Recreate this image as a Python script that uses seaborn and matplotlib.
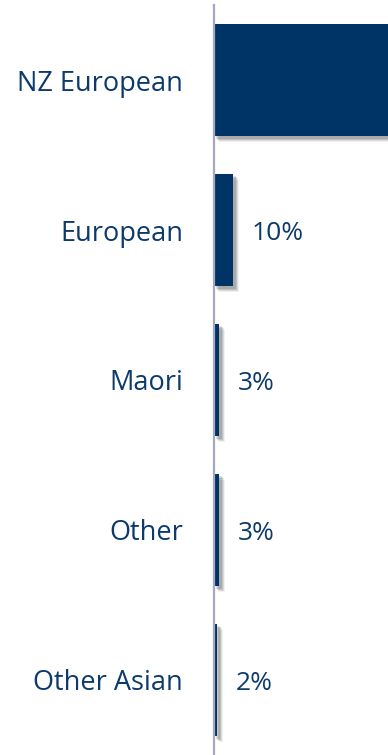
import matplotlib
matplotlib.use("Agg")
import matplotlib.pyplot as plt
import matplotlib.patheffects as pe
import seaborn as sns
import pandas as pd

# Ethnicity breakdown (share of respondents, %)
categories = ["NZ European", "European", "Maori", "Other", "Other Asian"]
values = [92, 10, 3, 3, 2]
value_labels = ["92%", "10%", "3%", "3%", "2%"]

bar_color = "#003466"
text_color = "#0C3A6C"

sns.set_theme(style="white")
plt.rcParams["font.family"] = ["Open Sans", "DejaVu Sans"]

df = pd.DataFrame({"group": categories, "share": values})

fig = plt.figure(figsize=(3.88, 7.55), dpi=100)
ax = fig.add_axes([213.5 / 388, 0.0, (388 - 213.5) / 388, 750 / 755])

sns.barplot(data=df, y="group", x="share", orient="h", color=bar_color,
            saturation=1, width=0.75, ax=ax)

# soft drop shadow behind each bar
shadow = [
    pe.SimplePatchShadow(offset=(4.2, -4.2), shadow_rgbFace="#000000", alpha=0.06),
    pe.SimplePatchShadow(offset=(3.4, -3.4), shadow_rgbFace="#000000", alpha=0.09),
    pe.SimplePatchShadow(offset=(2.6, -2.6), shadow_rgbFace="#000000", alpha=0.11),
    pe.SimplePatchShadow(offset=(1.8, -1.8), shadow_rgbFace="#000000", alpha=0.12),
    pe.Normal(),
]
for patch in ax.patches:
    patch.set_edgecolor("none")
    patch.set_path_effects(shadow)

labels = ax.bar_label(ax.containers[0], labels=value_labels, padding=13,
                      color=text_color, fontsize=19)
for t in labels:
    t.xyann = (13, -2.5)

ax.set_xlim(0, 89)
ax.set_xlabel("")
ax.set_ylabel("")
ax.set_xticks([])
for side in ("top", "right", "bottom"):
    ax.spines[side].set_visible(False)
ax.spines["left"].set_color("#A6A8BE")
ax.spines["left"].set_linewidth(1.6)
ax.tick_params(axis="y", length=0, pad=22, labelsize=19.5, labelcolor=text_color)

fig.savefig("out.png", dpi=100)
